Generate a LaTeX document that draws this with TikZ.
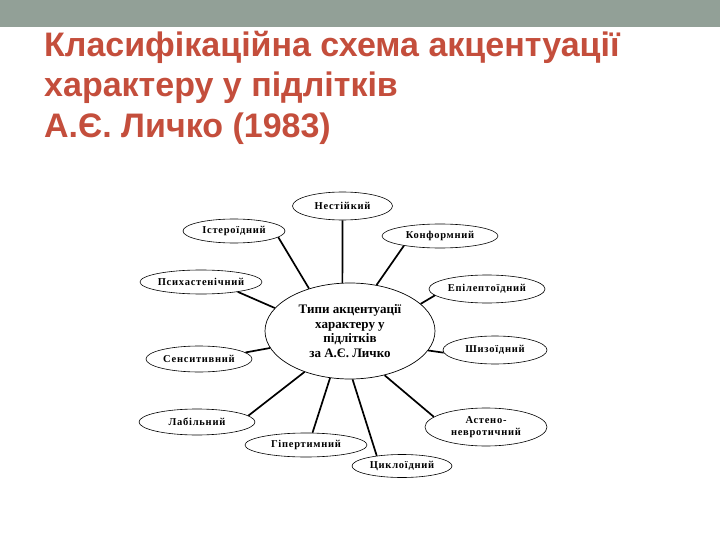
\documentclass[tikz,border=0pt]{standalone}
\usepackage{fontspec}
\setmainfont{Liberation Serif}
\newfontfamily\titlefont{Liberation Sans}
\newfontfamily\ovalfont[LetterSpace=7]{Liberation Serif}
\usetikzlibrary{shapes.geometric}
\definecolor{bandgray}{RGB}{146,160,151}
\definecolor{titlered}{RGB}{196,78,60}
\tikzset{
  oval/.style={ellipse, draw, line width=0.6pt, inner sep=0pt, align=center,
    font=\ovalfont\bfseries\fontsize{10.5}{12.5}\selectfont},
  hub/.style={ellipse, draw, line width=0.7pt, inner sep=0pt, align=center,
    minimum width=170, minimum height=96,
    font=\bfseries\fontsize{13}{14.5}\selectfont},
  conn/.style={line width=1.7pt},
  ttl/.style={anchor=base west, inner sep=0pt, text=titlered,
    font=\titlefont\bfseries\fontsize{34}{41}\selectfont}
}
\begin{document}
\begin{tikzpicture}[x=1pt,y=-1pt]
\useasboundingbox (0,0) rectangle (720,540);
\fill[bandgray] (0,0) rectangle (720,27);
\node[ttl] (t1) at (44,57) {Класифікаційна схема акцентуації};
\node[ttl] (t2) at (44,97) {характеру у підлітків};
\node[ttl] (t3) at (44,138) {А.Є. Личко (1983)};

\node[hub] (c) at (350,331) {Типи акцентуації\\характеру у\\підлітків\\за А.Є. Личко};

\node[oval, minimum width=100, minimum height=28] (n1) at (342.5,206) {Нестійкий};
\node[oval, minimum width=102, minimum height=24] (n2) at (234,231) {Істероїдний};
\node[oval, minimum width=116, minimum height=24] (n3) at (440,236) {Конформний};
\node[oval, minimum width=122, minimum height=24] (n4) at (201,282) {Психастенічний};
\node[oval, minimum width=116, minimum height=28] (n5) at (487,289) {Епілептоїдний};
\node[oval, minimum width=104, minimum height=28] (n6) at (495,350) {Шизоїдний};
\node[oval, minimum width=106, minimum height=26] (n7) at (199,359) {Сенситивний};
\node[oval, minimum width=116, minimum height=26] (n8) at (197,422) {Лабільний};
\node[oval, minimum width=122, minimum height=24] (n9) at (306,445) {Гіпертимний};
\node[oval, minimum width=100, minimum height=23] (n10) at (402,466) {Циклоїдний};
\node[oval, minimum width=122, minimum height=38] (n11) at (486,427) {Астено-\\невротичний};

\draw[conn] (c.99) -- (n1.270);
\draw[conn] (c.134) -- (n2.352);
\draw[conn] (c.60) -- (n3.195);
\draw[conn] (c.163) -- (n4.345);
\draw[conn] (c.21) -- (n5.187);
\draw[conn] (c.-14) -- (n6.183);
\draw[conn] (c.192) -- (n7.8);
\draw[conn] (c.222) -- (n8.7);
\draw[conn] (c.247) -- (n9.62);
\draw[conn] (c.273) -- (n10.158);
\draw[conn] (c.308) -- (n11.169);
\end{tikzpicture}
\end{document}
